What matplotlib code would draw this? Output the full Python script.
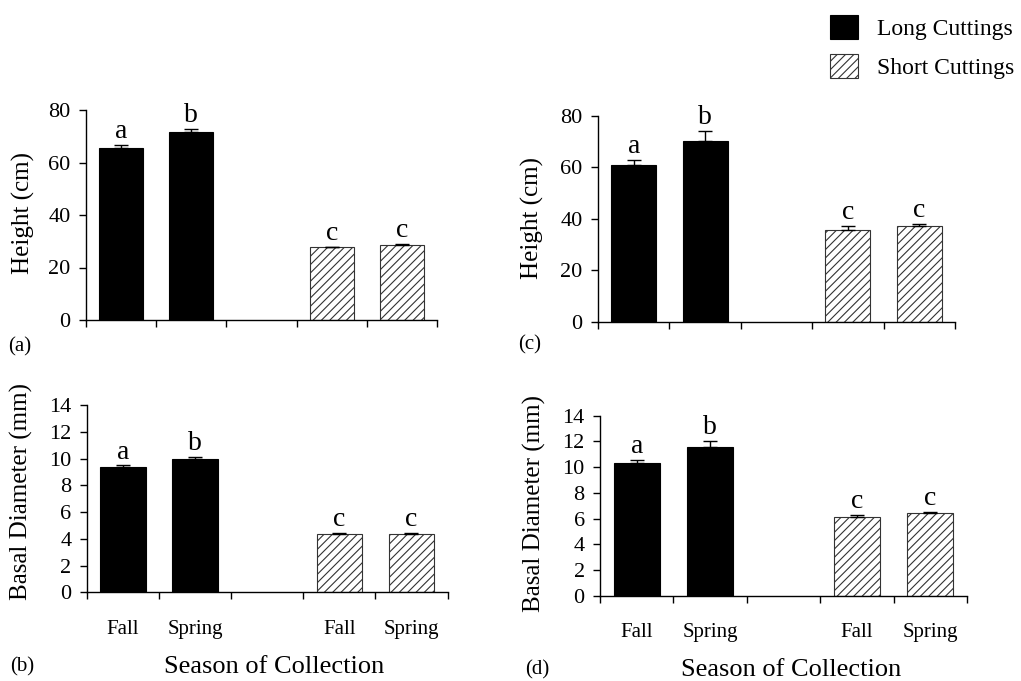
import matplotlib
matplotlib.use("Agg")
import matplotlib.pyplot as plt
import numpy as np

plt.rcParams['font.family'] = ['Liberation Serif', 'DejaVu Serif']
plt.rcParams['hatch.linewidth'] = 0.8

# ---- data ----
positions = [0, 1, 3, 4]            # slot 2 is an empty gap
season_labels = ["Fall", "Spring", "Fall", "Spring"]
groups = ["Long Cuttings", "Long Cuttings", "Short Cuttings", "Short Cuttings"]
letters = ["a", "b", "c", "c"]

height_a = [65.5, 71.6, 27.7, 28.5]
height_a_err = [1.3, 1.2, 0.3, 0.5]
diam_b = [9.4, 10.0, 4.33, 4.33]
diam_b_err = [0.08, 0.12, 0.08, 0.1]
height_c = [61.0, 70.4, 35.7, 37.2]
height_c_err = [1.9, 3.9, 1.5, 0.8]
diam_d = [10.3, 11.6, 6.14, 6.41]
diam_d_err = [0.27, 0.47, 0.16, 0.13]

W, H = 1021, 681
fig = plt.figure(figsize=(W / 100, H / 100), dpi=100)

def ax_rect(left, right, top, bottom):
    return [left / W, 1 - bottom / H, (right - left) / W, (bottom - top) / H]

panels = [
    dict(rect=ax_rect(86, 437, 110, 320), vals=height_a, errs=height_a_err,
         ymax=80, yticks=[0, 20, 40, 60, 80], ylabel="Height (cm)",
         ylab_xy=(23, 213), tag="(a)", tag_xy=(8, 347), xlabels=False),
    dict(rect=ax_rect(598, 955, 116, 321.7), vals=height_c, errs=height_c_err,
         ymax=80, yticks=[0, 20, 40, 60, 80], ylabel="Height (cm)",
         ylab_xy=(532, 218), tag="(c)", tag_xy=(518, 345), xlabels=False),
    dict(rect=ax_rect(86.7, 447.5, 405, 592.3), vals=diam_b, errs=diam_b_err,
         ymax=14, yticks=[0, 2, 4, 6, 8, 10, 12, 14], ylabel="Basal Diameter (mm)",
         ylab_xy=(21, 492), tag="(b)", tag_xy=(10, 667), xlabels=True,
         xtitle_xy=(274, 667)),
    dict(rect=ax_rect(600, 967, 415.7, 595.7), vals=diam_d, errs=diam_d_err,
         ymax=14, yticks=[0, 2, 4, 6, 8, 10, 12, 14], ylabel="Basal Diameter (mm)",
         ylab_xy=(534, 503), tag="(d)", tag_xy=(525, 670), xlabels=True,
         xtitle_xy=(791, 670)),
]

legend_handles = {}
for p in panels:
    ax = fig.add_axes(p["rect"])
    for x, v, g in zip(positions, p["vals"], groups):
        if g == "Long Cuttings":
            b = ax.bar(x, v, width=0.63, color="black", edgecolor="black",
                       linewidth=0.8, label=g)
        else:
            b = ax.bar(x, v, width=0.63, color="white", edgecolor="#333333",
                       hatch="////", linewidth=0.8, label=g)
        legend_handles.setdefault(g, b)
    ax.errorbar(positions, p["vals"], yerr=[np.zeros(len(p["errs"])), p["errs"]],
                fmt="none", ecolor="black", elinewidth=1, capsize=5, capthick=1)
    for x, v, e, t in zip(positions, p["vals"], p["errs"], letters):
        ax.annotate(t, (x, v + e), xytext=(0, 5), textcoords="offset points",
                    ha="center", va="baseline", fontsize=20)
    ax.set_xlim(-0.5, 4.5)
    ax.set_ylim(0, p["ymax"])
    ax.set_yticks(p["yticks"])
    ax.tick_params(axis="y", direction="out", length=5, width=1, pad=6,
                   labelsize=16)
    ax.set_xticks([-0.5, 0.5, 1.5, 2.5, 3.5, 4.5])
    ax.set_xticklabels([])
    ax.tick_params(axis="x", which="major", direction="out", length=5, width=1)
    if p["xlabels"]:
        ax.set_xticks(positions, minor=True)
        ax.set_xticklabels(season_labels, minor=True)
        ax.tick_params(axis="x", which="minor", length=0, pad=20, labelsize=15)
        fig.text(p["xtitle_xy"][0] / W, 1 - p["xtitle_xy"][1] / H,
                 "Season of Collection", ha="center", va="center", fontsize=19)
    for s in ["top", "right"]:
        ax.spines[s].set_visible(False)
    for s in ["left", "bottom"]:
        ax.spines[s].set_linewidth(1)
    fig.text(p["ylab_xy"][0] / W, 1 - p["ylab_xy"][1] / H, p["ylabel"], rotation=90,
             ha="center", va="center", fontsize=18)
    fig.text(p["tag_xy"][0] / W, 1 - p["tag_xy"][1] / H, p["tag"],
             ha="left", va="center", fontsize=15)

fig.legend(handles=[legend_handles["Long Cuttings"], legend_handles["Short Cuttings"]],
           labels=["Long Cuttings", "Short Cuttings"],
           loc="upper left", bbox_to_anchor=(830 / W, 1 - 15 / H),
           frameon=False, fontsize=17, borderpad=0, borderaxespad=0,
           handlelength=1.19, handleheight=1.19, handletextpad=0.8,
           labelspacing=0.58)

fig.savefig("out.png", dpi=100)
